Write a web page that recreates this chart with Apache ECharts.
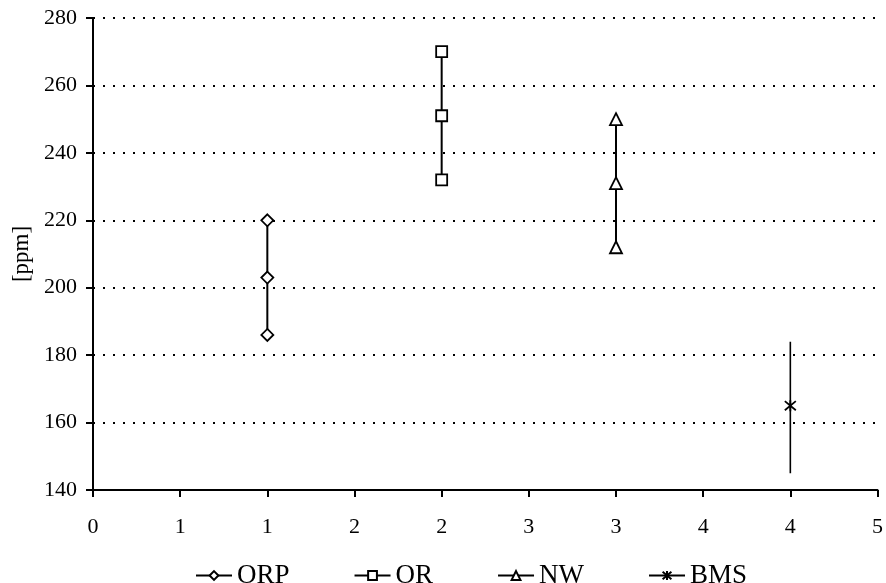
<!DOCTYPE html>
<html><head><meta charset="utf-8">
<script src="https://cdn.jsdelivr.net/npm/echarts@6/dist/echarts.min.js"></script>
<style>html,body{margin:0;padding:0;background:#fff}#c{width:886px;height:583px}</style>
</head><body><div id="c"></div>
<script>
var seriesNames = ['ORP', 'OR', 'NW', 'BMS'];
var xPositions = [1, 2, 3, 4];
var orpValues = [186, 203, 220];
var orValues = [232, 251, 270];
var nwValues = [212, 231, 250];
var bmsValue = 165;
var bmsRange = [145, 184];
var yTicks = [140, 160, 180, 200, 220, 240, 260, 280];
var xTickMin = 0, xTickMax = 4.5, xTickStep = 0.5;

var FONT = '"Liberation Serif", "Times New Roman", serif';
var diamond = 'path://M0,-1 L1,0 L0,1 L-1,0 Z';
var star = 'path://M0,0 L10,10 M10,0 L0,10 M5,-1 L5,11';

function pts(x, vals) { return vals.map(function (v) { return [x, v]; }); }

function mk(name, data, symbol, size) {
  return {
    name: name, type: 'line', data: data, symbol: symbol, symbolSize: size,
    lineStyle: { color: '#000', width: 2 },
    itemStyle: { color: '#fff', borderColor: '#000', borderWidth: 1.8 },
    emphasis: { disabled: true }, animation: false, z: 3
  };
}

var chart = echarts.init(document.getElementById('c'));
chart.setOption({
  backgroundColor: '#fff',
  animation: false,
  grid: { left: 93, right: 7, top: 18, bottom: 93 },
  xAxis: {
    type: 'value', min: xTickMin, max: xTickMax, interval: xTickStep,
    axisLine: { lineStyle: { color: '#000', width: 2 } },
    axisTick: { show: true, length: 7, lineStyle: { color: '#000', width: 2 } },
    axisLabel: { color: '#000', fontFamily: FONT, fontSize: 22, margin: 26,
      formatter: function (v) { return String(Math.round(v)); } },
    splitLine: { show: false }
  },
  yAxis: {
    type: 'value', min: yTicks[0], max: yTicks[yTicks.length - 1], interval: 20,
    name: '[ppm]', nameLocation: 'middle', nameGap: 60, nameRotate: 90,
    nameTextStyle: { color: '#000', fontFamily: FONT, fontSize: 23 },
    axisLine: { show: true, lineStyle: { color: '#000', width: 2 } },
    axisTick: { show: true, length: 7, lineStyle: { color: '#000', width: 2 } },
    axisLabel: { color: '#000', fontFamily: FONT, fontSize: 22, margin: 16 },
    splitLine: { show: true, lineStyle: { color: '#000', width: 2, type: [2, 8] } }
  },
  legend: {
    top: 557, left: 190, itemGap: 64, itemWidth: 36, itemHeight: 11,
    textStyle: { color: '#000', fontFamily: FONT, fontSize: 27 },
    data: seriesNames
  },
  series: [
    mk(seriesNames[0], pts(xPositions[0], orpValues), diamond, 12),
    mk(seriesNames[1], pts(xPositions[1], orValues), 'rect', 11),
    mk(seriesNames[2], pts(xPositions[2], nwValues), 'triangle', 12),
    mk(seriesNames[3], [[xPositions[3], bmsValue]], star, 11),
    {
      name: 'BMS-range', type: 'line', data: pts(xPositions[3], bmsRange), symbol: 'none',
      lineStyle: { color: '#000', width: 1.6 }, silent: true, z: 2
    }
  ]
});
</script></body></html>
